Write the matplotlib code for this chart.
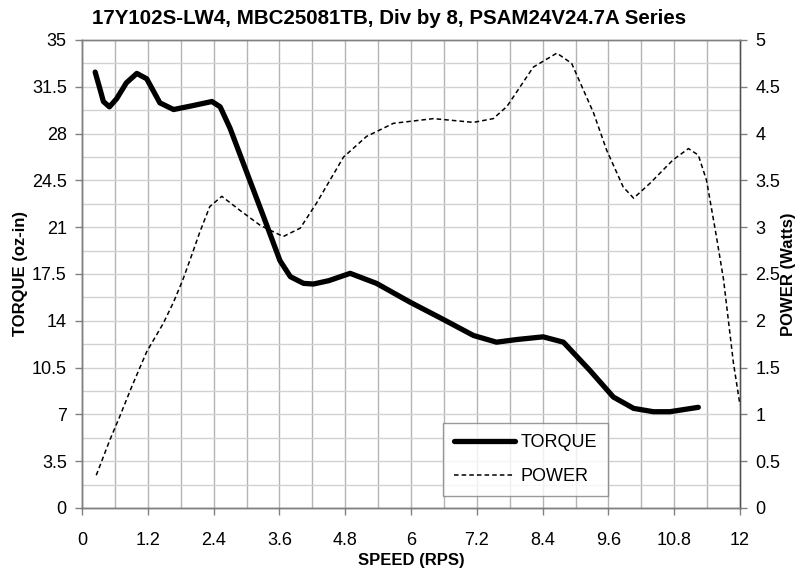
import matplotlib.pyplot as plt
import numpy as np

# courbe de couple (oz-in)
speed_torque = [0.24, 0.33, 0.39, 0.50, 0.63, 0.81, 1.0, 1.18, 1.42, 1.67, 2.03, 2.37,
                2.52, 2.70, 2.94, 3.31, 3.61, 3.80, 4.04, 4.22, 4.50, 4.89, 5.37, 5.98,
                6.59, 7.14, 7.56, 7.93, 8.41, 8.78, 9.26, 9.69, 10.06, 10.42, 10.72, 11.24]
torque = [32.6, 31.3, 30.4, 30.0, 30.6, 31.8, 32.5, 32.1, 30.3, 29.8, 30.1, 30.4,
          30.0, 28.4, 25.8, 21.8, 18.5, 17.3, 16.8, 16.75, 17.0, 17.55, 16.8, 15.4,
          14.1, 12.9, 12.4, 12.6, 12.8, 12.4, 10.3, 8.3, 7.45, 7.2, 7.2, 7.53]

# courbe de puissance (Watts)
speed_power = [0.26, 0.51, 0.69, 0.91, 1.18, 1.48, 1.67, 1.84, 2.0, 2.15, 2.33, 2.55,
               2.88, 3.25, 3.67, 3.98, 4.28, 4.77, 5.19, 5.68, 6.41, 7.14, 7.50,
               7.75, 8.23, 8.66, 8.93, 9.33, 9.57, 9.87, 10.06, 10.36, 10.78, 11.06,
               11.24, 11.39, 11.57, 11.70, 11.88, 12.0]
power = [0.35, 0.73, 0.98, 1.30, 1.67, 1.97, 2.20, 2.44, 2.70, 2.95, 3.22, 3.33,
         3.18, 3.02, 2.90, 2.99, 3.26, 3.75, 3.97, 4.11, 4.16, 4.12, 4.16,
         4.29, 4.71, 4.86, 4.75, 4.22, 3.82, 3.43, 3.31, 3.47, 3.72, 3.84,
         3.77, 3.50, 2.90, 2.44, 1.55, 1.10]

x_ticks = np.arange(0, 12.01, 1.2)
x_labels = ["0", "1.2", "2.4", "3.6", "4.8", "6", "7.2", "8.4", "9.6", "10.8", "12"]
y_ticks = np.arange(0, 35.01, 3.5)
y_labels = ["0", "3.5", "7", "10.5", "14", "17.5", "21", "24.5", "28", "31.5", "35"]
p_ticks = np.arange(0, 5.01, 0.5)
p_labels = ["0", "0.5", "1", "1.5", "2", "2.5", "3", "3.5", "4", "4.5", "5"]

plt.rcParams['font.family'] = ['Liberation Sans', 'DejaVu Sans']

fig = plt.figure(figsize=(8.1, 5.72), dpi=100)
ax = fig.add_axes([82/810, 64/572, 658/810, 468/572])
ax2 = ax.twinx()

# grille
for xv in np.arange(0.6, 12, 0.6):
    ax.axvline(xv, color="#b4b4b4", lw=1, zorder=0)
for yv in np.arange(1.75, 35, 1.75):
    ax.axhline(yv, color="#d2d2d2", lw=1, zorder=0)

l1, = ax.plot(speed_torque, torque, color="black", lw=3.8,
              solid_joinstyle="round", solid_capstyle="round", label="TORQUE")
l2, = ax2.plot(speed_power, power, color="black", lw=1.1, ls=(0, (3, 2)), label="POWER")

ax.set_xlim(0, 12)
ax.set_ylim(0, 35)
ax2.set_ylim(0, 5)
ax.set_xticks(x_ticks)
ax.set_xticklabels(x_labels)
ax.set_yticks(y_ticks)
ax.set_yticklabels(y_labels)
ax2.set_yticks(p_ticks)
ax2.set_yticklabels(p_labels)

for a in (ax, ax2):
    a.tick_params(labelsize=13, length=5, width=1, color="#808080", pad=6)
    for s in a.spines.values():
        s.set_color("#808080")
        s.set_linewidth(1)
ax.tick_params(axis="x", pad=12)
ax.spines["left"].set_color("#505050")
ax.spines["bottom"].set_color("#505050")
ax2.spines["right"].set_color("#505050")

fig.text(0.48, 0.968, "17Y102S-LW4, MBC25081TB, Div by 8, PSAM24V24.7A Series",
         ha="center", va="center", fontsize=14.8, fontweight="bold")
ax.set_xlabel("SPEED (RPS)", fontsize=12, fontweight="bold")
ax.xaxis.set_label_coords(0.5, -0.097)
ax.set_ylabel("TORQUE (oz-in)", fontsize=12, fontweight="bold")
ax.yaxis.set_label_coords(-0.082, 0.5)
ax2.set_ylabel("POWER (Watts)", fontsize=12, fontweight="bold")
ax2.yaxis.set_label_coords(1.062, 0.5)

leg = ax.legend(handles=[l1, l2], loc="lower left", bbox_to_anchor=(361/658, 12/468),
                borderaxespad=0, fontsize=13, frameon=True, fancybox=False, borderpad=0.6,
                handlelength=3.4, labelspacing=0.95, handletextpad=0.3)
leg.get_frame().set_edgecolor("#808080")
leg.get_frame().set_linewidth(1)

fig.savefig("out.png", dpi=100)
